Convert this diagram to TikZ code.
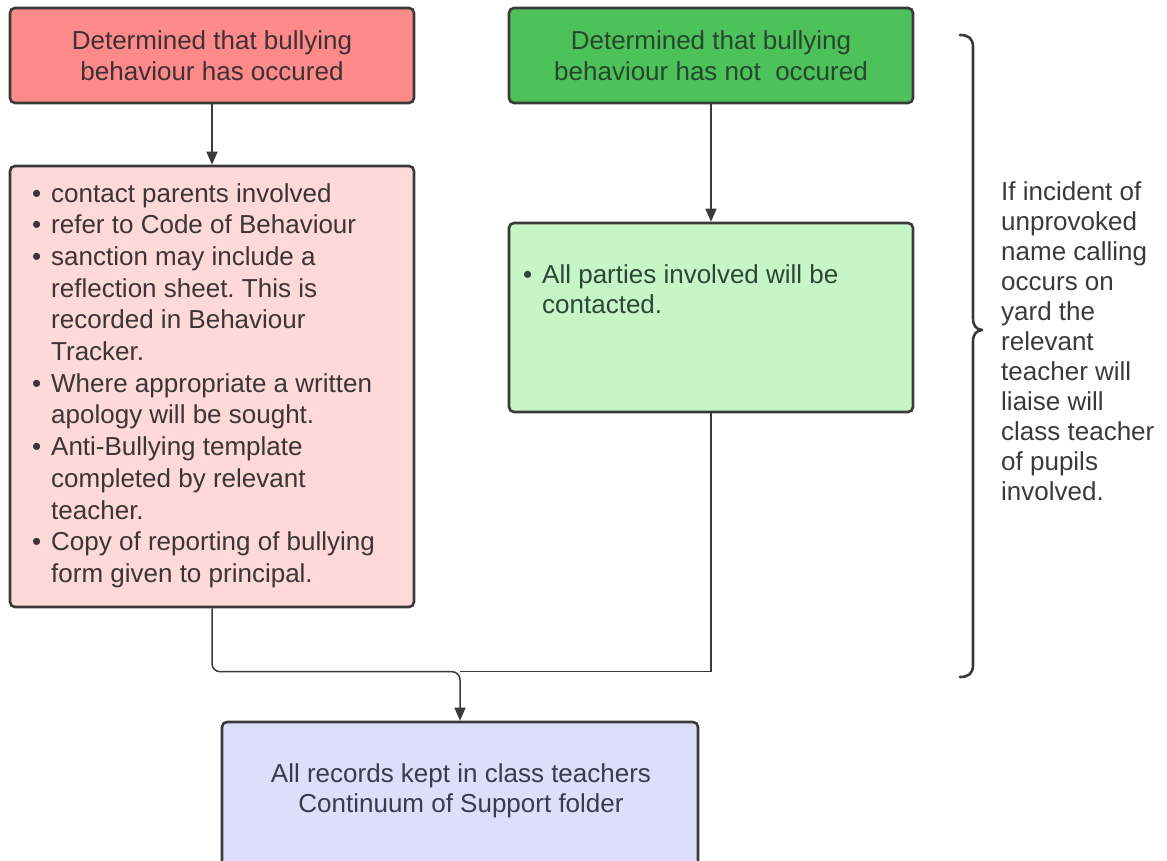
\documentclass[tikz,border=0pt]{standalone}
\usepackage{fontspec}
\setmainfont{Liberation Sans}
\usetikzlibrary{arrows.meta,calc}
\frenchspacing
\definecolor{edge}{HTML}{3A3A3A}
\definecolor{txtred}{HTML}{3E3033}
\definecolor{txtgreen}{HTML}{26472C}
\definecolor{txtlred}{HTML}{3A3536}
\definecolor{txtlgreen}{HTML}{2E4634}
\definecolor{txtblue}{HTML}{3A3A4C}
\definecolor{txt}{HTML}{3A3A3A}
\definecolor{redtop}{HTML}{FF8A8A}
\definecolor{redlow}{HTML}{FFD8D8}
\definecolor{greentop}{HTML}{4EC25A}
\definecolor{greenlow}{HTML}{C6F5C8}
\definecolor{bluebox}{HTML}{DEDEFA}
\tikzset{
  box/.style={draw=edge, line width=2.6pt, rounded corners=5pt, inner sep=0pt},
  titlebox/.style={box, minimum width=404pt, minimum height=95pt, align=center,
      font=\fontsize{26}{30.6}\selectfont},
  bodytext/.style={inner sep=0pt, align=left, font=\fontsize{26}{31.7}\selectfont},
  conn/.style={draw=edge, line width=1.5pt},
  arrowconn/.style={conn, -{Triangle[length=13pt,width=11pt]}},
}
\newcommand{\bul}{\makebox[19pt][l]{•}}
\newcommand{\ind}{\hspace*{19pt}}
\begin{document}
\begin{tikzpicture}[x=1pt,y=-1pt]
\useasboundingbox (0,0) rectangle (1167,861);
% boxes
\node[titlebox, fill=redtop, text=txtred] (r1) at (212,55.5) {Determined that bullying\\behaviour has occured};
\node[titlebox, fill=greentop, text=txtgreen] (g1) at (711,55.5) {Determined that bullying\\behaviour has not\ \ occured};
\node[box, fill=redlow, minimum width=404pt, minimum height=441pt] (r2) at (212,386.5) {};
\node[box, fill=greenlow, minimum width=404pt, minimum height=189pt] (g2) at (711,317.5) {};
\node[box, fill=bluebox, minimum width=476pt, minimum height=160pt] (b) at (460,802) {};
% texts
\node[bodytext, text=txtlred, anchor=north west] (r2t) at (32,183) {%
\bul contact parents involved\\
\bul refer to Code of Behaviour\\
\bul sanction may include a\\
\ind reflection sheet. This is\\
\ind recorded in Behaviour\\
\ind Tracker.\\
\bul Where appropriate a written\\
\ind apology will be sought.\\
\bul Anti-Bullying template\\
\ind completed by relevant\\
\ind teacher.\\
\bul Copy of reporting of bullying\\
\ind form given to principal.};
\node[bodytext, text=txtlgreen, anchor=north west, font=\fontsize{26}{30}\selectfont] (g2t) at (523,264) {%
\bul All parties involved will be\\
\ind contacted.};
\node[bodytext, text=txtblue, align=center, font=\fontsize{26}{30}\selectfont] (bt) at (461,791) {All records kept in class teachers\\Continuum of Support folder};
\node[bodytext, text=txt, font=\fontsize{26}{30}\selectfont, anchor=north west] (note) at (1001,181) {%
If incident of\\unprovoked\\name calling\\occurs on\\yard the\\relevant\\teacher will\\liaise will\\class teacher\\of pupils\\involved.};
% connectors
\draw[arrowconn] (r1.south) -- (r2.north);
\draw[arrowconn] (g1.south) -- (g2.north);
\coordinate (m) at ($(b.north)+(0,-49)$);
\draw[conn] (g2.south) |- (m);
\draw[arrowconn, rounded corners=8pt] (r2.south) |- (m) -- (b.north);
% brace
\draw[edge, line width=2.6pt, line cap=round, line join=round]
  (960,35) .. controls (968,35) and (973,38) .. (973,47)
  -- (973,318) .. controls (973,326) and (976,329) .. (982,330)
  .. controls (976,331) and (973,334) .. (973,342)
  -- (973,665) .. controls (973,674) and (968,677) .. (960,677);
\end{tikzpicture}
\end{document}
